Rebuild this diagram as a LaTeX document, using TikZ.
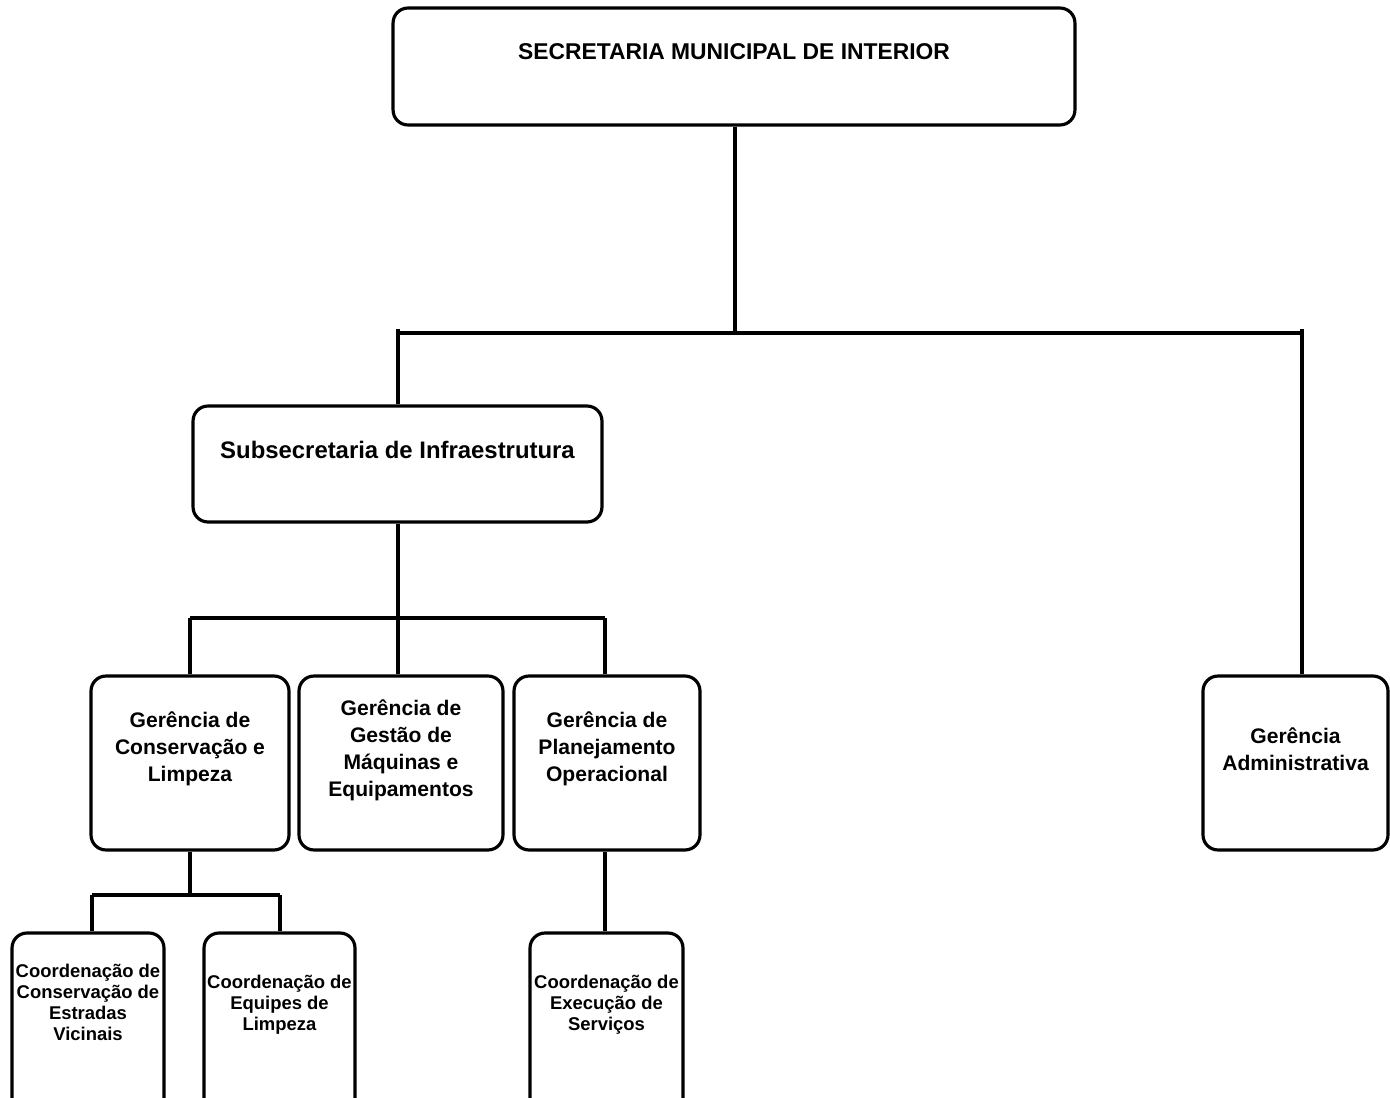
\documentclass[tikz,border=0pt]{standalone}
\usepackage{fontspec}
\setmainfont{Liberation Sans}
\begin{document}
\begin{tikzpicture}[x=0.02cm,y=-0.02cm,line width=1.8pt,
  box/.style={draw, rounded corners=0.3cm, inner sep=0pt, line width=1.8pt},
  txt/.style={font=\bfseries\fontsize{12}{15.4}\selectfont, align=center, inner sep=0pt},
  ttxt/.style={font=\bfseries\fontsize{13}{15.4}\selectfont, align=center, inner sep=0pt},
  btxt/.style={font=\bfseries\fontsize{13.6}{15.4}\selectfont, align=center, inner sep=0pt},
  stxt/.style={font=\bfseries\fontsize{10.5}{12}\selectfont, align=center, inner sep=0pt}]
\clip (0,0) rectangle (1390,1098);
% boxes
\node[box, minimum width=13.64cm, minimum height=2.34cm] (sec) at (734,66.5) {};
\node[box, minimum width=8.18cm, minimum height=2.32cm] (sub) at (397.5,464) {};
\node[box, minimum width=3.96cm, minimum height=3.48cm] (g1) at (190,763) {};
\node[box, minimum width=4.08cm, minimum height=3.48cm] (g2) at (401,763) {};
\node[box, minimum width=3.72cm, minimum height=3.48cm] (g3) at (607,763) {};
\node[box, minimum width=3.70cm, minimum height=3.48cm] (ga) at (1295.5,763) {};
\node[box, minimum width=3.04cm, minimum height=3.6cm] (c1) at (88,1023) {};
\node[box, minimum width=3.02cm, minimum height=3.6cm] (c2) at (279.5,1023) {};
\node[box, minimum width=3.06cm, minimum height=3.6cm] (c3) at (606.5,1023) {};
% texts
\node[ttxt] (sect) at (734,52) {SECRETARIA MUNICIPAL DE INTERIOR};
\node[btxt] (subt) at (397.5,450) {Subsecretaria de Infraestrutura};
\node[txt] (g1t) at (190,749) {Gerência de\\Conservação e\\Limpeza};
\node[txt] (g2t) at (401,750) {Gerência de\\Gestão de\\Máquinas e\\Equipamentos};
\node[txt] (g3t) at (607,749) {Gerência de\\Planejamento\\Operacional};
\node[txt] (gat) at (1295.5,749) {Gerência\\Administrativa};
\node[stxt] (c1t) at (88,1002.5) {Coordenação de\\Conservação de\\Estradas\\Vicinais};
\node[stxt] (c2t) at (279.5,1005) {Coordenação de\\Equipes de\\Limpeza};
\node[stxt] (c3t) at (606.5,1005) {Coordenação de\\Execução de\\Serviços};
% connector points
\coordinate (barM) at (735,333);
\coordinate (tL) at (398,329);
\coordinate (tR) at (1302,329);
\coordinate (bL) at (398,333);
\coordinate (bR) at (1302,333);
\coordinate (b2L) at (190,618);
\coordinate (b2R) at (605,618);
\coordinate (b3) at (190,895);
\coordinate (b3L) at (92,895);
\coordinate (b3R) at (280,895);
% connectors
\draw (sec.south -| barM) -- (barM);
\draw (bL) -- (bR);
\draw (tL) -- (tL |- sub.north);
\draw (tR) -- (tR |- ga.north);
\draw (sub.south -| tL) -- (tL |- g2.north);
\draw (b2L) -- (b2R);
\draw (b2L) -- (b2L |- g1.north);
\draw (b2R) -- (b2R |- g3.north);
\draw (b3 |- g1.south) -- (b3);
\draw (b3L) -- (b3R);
\draw (b3L) -- (b3L |- c1.north);
\draw (b3R) -- (b3R |- c2.north);
\draw (b2R |- g3.south) -- (b2R |- c3.north);
\end{tikzpicture}
\end{document}
